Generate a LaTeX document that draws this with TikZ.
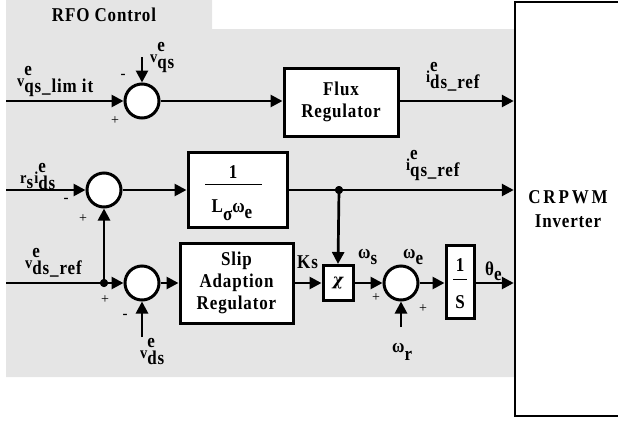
\documentclass[tikz,border=0pt]{standalone}
\usepackage{fontspec}
\usepackage{graphicx}
\usetikzlibrary{arrows.meta}
\newfontfamily\tnr{Liberation Serif}[LetterSpace=5]
\newfontfamily\tnrplain{Liberation Serif}
\newfontfamily\dvs{DejaVu Serif}
\definecolor{bg}{RGB}{229,229,229}
\newcommand\bsz{\fontsize{17}{21}\selectfont}
\newcommand\ssz{\fontsize{14.5}{15}\selectfont}
\newcommand\vs[1]{\scalebox{1}[1.15]{#1}}
\newcommand\SSc[3]{{\ssz #1}\raisebox{-5.5pt}{\rlap{\raisebox{15pt}{#2}}#3}}
\tikzset{
  conn/.style={line width=2.7pt, -{Triangle[length=12pt,width=12pt]}},
  plainline/.style={line width=2.7pt},
  blk/.style={draw, line width=3pt, fill=white, inner sep=0pt, align=center, font=\tnr\bfseries\bsz},
  sumc/.style={draw, circle, line width=3pt, fill=white, minimum size=34pt, inner sep=0pt},
  jdot/.style={circle, fill=black, minimum size=8pt, inner sep=0pt},
  lbl/.style={anchor=base west, inner sep=0pt, yscale=1.15, font=\tnr\bfseries\bsz},
  txt/.style={inner sep=0pt, yscale=1.15, font=\tnr\bfseries\bsz},
  sgn/.style={inner sep=0pt, font=\tnrplain\fontsize{14}{14}\selectfont},
  sgnm/.style={inner sep=0pt, font=\tnr\bfseries\fontsize{15}{15}\selectfont},
}
\begin{document}
\begin{tikzpicture}[x=1pt,y=-1pt]
\useasboundingbox (0,0) rectangle (618,421);
% background
\fill[bg] (6,0) -- (212,0) -- (212,29) -- (515,29) -- (515,377) -- (6,377) -- cycle;
\node[txt] (rfo) at (104,15) {RFO Control};
% inverter
\node[draw, line width=2.5pt, minimum width=106pt, minimum height=414pt, inner sep=0pt, align=center,
  font=\tnr\bfseries\bsz] (inv) at (568,209) {\vs{C\,R\,P\,W\,M}\\[3pt]\vs{Inverter}};
% row 1
\node[sumc] (s1) at (142,101) {};
\node[blk, minimum width=114pt, minimum height=68pt] (flux) at (341,102) {\vs{Flux}\\[1pt]\vs{Regulator}};
\coordinate (in1) at (6,101);
\coordinate (t1) at (142,57);
\draw[conn] (in1) -- (s1.west);
\draw[conn] (t1) -- (s1.north);
\draw[conn] (s1.east) -- (flux.west |- s1.east);
\draw[conn] (flux.east |- s1.east) -- (inv.west |- s1.east);
\node[lbl] (l1) at (17,86) {\SSc{v}{e}{qs\_lim it}};
\node[lbl] (l2) at (150,62) {\SSc{v}{e}{qs}};
\node[lbl] (l3) at (426,82) {\SSc{i}{e}{ds\_ref}};
\node[sgnm] (m1) at (123,76) {-};
\node[sgn] (p1) at (115,121) {+};
% row 2
\node[sumc] (s2) at (104,190) {};
\node[blk, minimum width=99pt, minimum height=75pt] (box1) at (237.5,190) {};
\node[txt] (one1) at (233,172) {1};
\draw[line width=1pt] (205,184) -- (262,184);
\node[txt, anchor=base] (lsw) at (232,212) {L\raisebox{-7pt}{σ}ω\raisebox{-6pt}{e}};
\coordinate (in2) at (6,190);
\draw[conn] (in2) -- (s2.west);
\draw[conn] (s2.east) -- (box1.west);
\draw[conn] (box1.east) -- (inv.west |- box1.east);
\node[jdot] (j2) at (339,190) {};
\node[lbl] (l4) at (20,183) {{\ssz r}\raisebox{-4.5pt}{s}\kern1pt\SSc{i}{e}{ds}};
\node[lbl] (l5) at (406,170) {\SSc{i}{e}{qs\_ref}};
\node[sgnm] (m2) at (66,200) {-};
\node[sgn] (p2) at (83,219) {+};
% row 3
\node[sumc] (s3) at (142,283) {};
\node[blk, minimum width=113pt, minimum height=80pt] (slip) at (236.5,283) {\vs{Slip}\\[1pt]\vs{Adaption}\\[1pt]\vs{Regulator}};
\node[blk, minimum width=30pt, minimum height=35pt, font=\dvs\bfseries\itshape\fontsize{16}{16}\selectfont] (chi) at (338,283) {χ};
\node[sumc] (s4) at (401,283) {};
\node[blk, minimum width=28pt, minimum height=73pt] (intg) at (460,282) {};
\node[txt] (one2) at (460,265) {1};
\draw[line width=1pt] (453,279) -- (467,279);
\node[txt] (ss) at (460,302) {S};
\coordinate (in3) at (6,283);
\node[jdot] (j3) at (104,283) {};
\draw[plainline] (in3) -- (j3.center);
\draw[conn] (j3.center) -- (s3.west);
\draw[conn] (j3.center) -- (s2.south);
\coordinate (b3) at (142,337);
\draw[conn] (b3) -- (s3.south);
\draw[conn] (s3.east) -- (slip.west |- s3.east);
\draw[conn] (slip.east |- s3.east) -- (chi.west);
\draw[conn] (j2.center) -- (chi.north);
\draw[conn] (chi.east) -- (s4.west);
\coordinate (b4) at (401,327);
\draw[conn] (b4) -- (s4.south);
\draw[conn] (s4.east) -- (intg.west |- s4.east);
\draw[conn] (intg.east |- s4.east) -- (inv.west |- s4.east);
\node[jdot] (j2b) at (339,190) {};
\node[jdot] (j3b) at (104,283) {};
\node[lbl] (l6) at (25,268) {\SSc{v}{e}{ds\_ref}};
\node[lbl] (l7) at (140,358) {\SSc{v}{e}{ds}};
\node[lbl] (l8) at (297,268) {Ks};
\node[lbl] (l9) at (358,258) {ω\raisebox{-6pt}{s}};
\node[lbl] (l10) at (403,258) {ω\raisebox{-6pt}{e}};
\node[lbl] (l11) at (392,352) {ω\raisebox{-7pt}{r}};
\node[lbl] (l12) at (485,275) {θ\raisebox{-5pt}{e}};
\node[sgn] (p3) at (105,300) {+};
\node[sgnm] (m3) at (125,316) {-};
\node[sgn] (p4) at (376,298) {+};
\node[sgn] (p5) at (423,309) {+};
\end{tikzpicture}
\end{document}
